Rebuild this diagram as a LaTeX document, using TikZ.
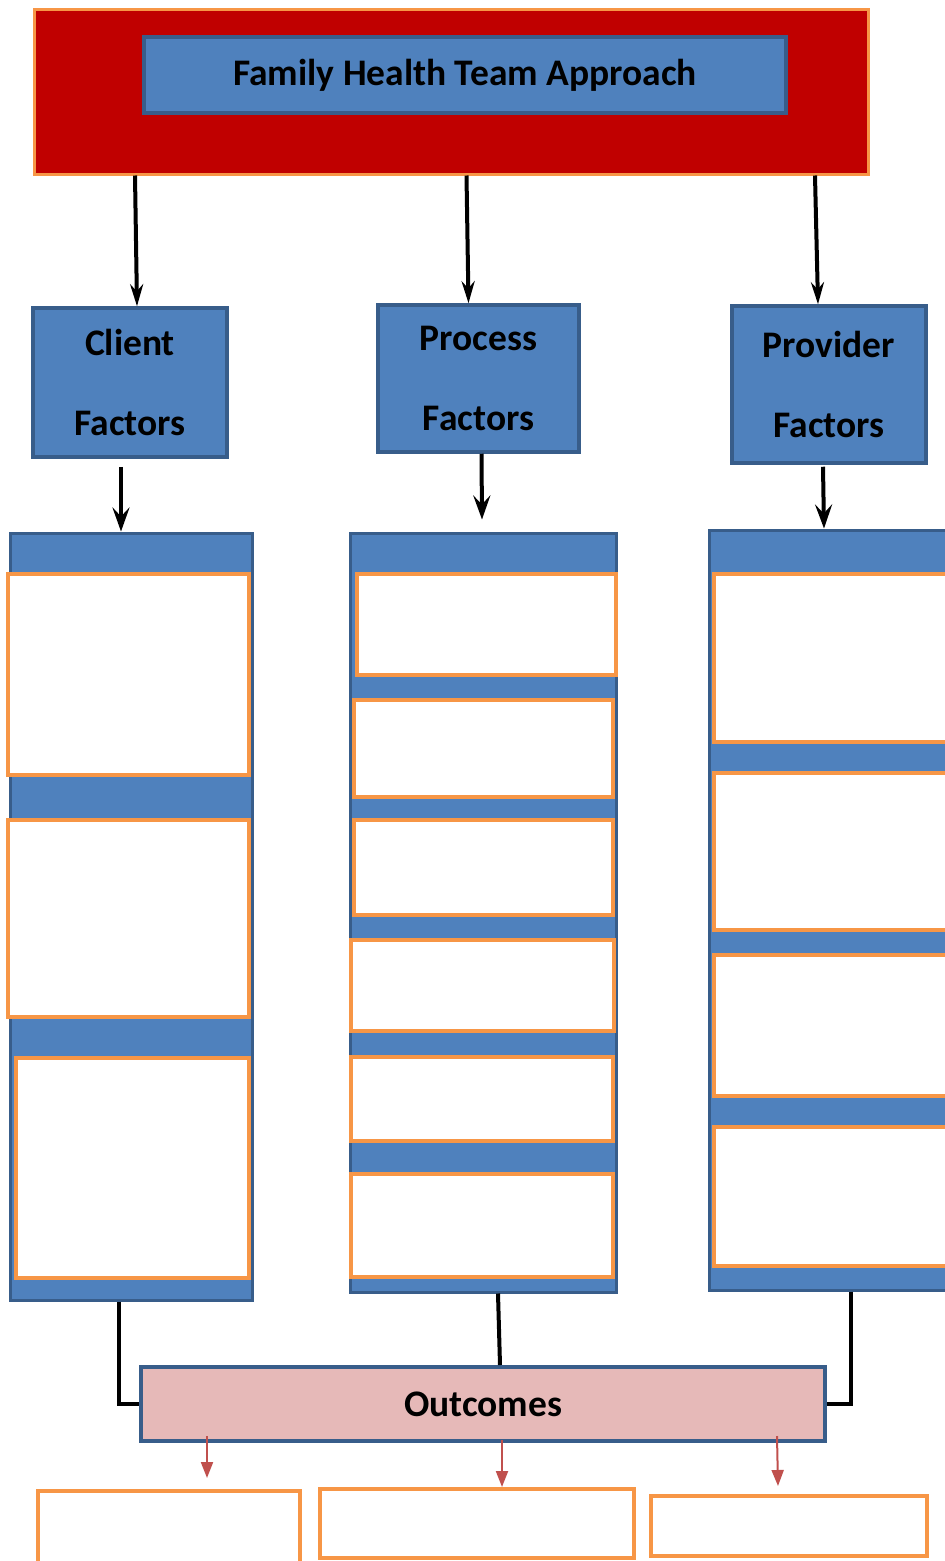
\documentclass[tikz,border=0pt]{standalone}
\usepackage{fontspec}
\setmainfont{Carlito}
\usetikzlibrary{arrows.meta,positioning,calc}
\definecolor{fhred}{HTML}{C00000}
\definecolor{fhorange}{HTML}{F79646}
\definecolor{fhblue}{HTML}{4F81BD}
\definecolor{fhdark}{HTML}{385D8A}
\definecolor{fhpink}{HTML}{E6B9B8}
\definecolor{fharrow}{HTML}{C0504D}
\tikzset{
  frame/.style={draw=fhorange,line width=3pt,fill=fhred,inner sep=0pt},
  bbox/.style={draw=fhdark,line width=3.5pt,fill=fhblue,align=center,inner sep=0pt,
    font=\bfseries\fontsize{37.5}{80}\selectfont},
  col/.style={draw=fhdark,line width=3pt,fill=fhblue,inner sep=0pt},
  slot/.style={draw=fhorange,line width=4pt,fill=white,inner sep=0pt},
  obox/.style={bbox,fill=fhpink,line width=4pt},
  ar/.style={-{Stealth[length=22pt,width=13pt]},line width=4pt},
  br/.style={-{Stealth[length=24pt,width=17pt,inset=9pt]},line width=4pt},
  link/.style={line width=4pt},
  rar/.style={-{Triangle[length=16pt,width=12pt]},line width=2pt,draw=fharrow},
}
\begin{document}
\begin{tikzpicture}[x=1pt,y=-1pt,every node/.style={minimum width=0pt}]
  \useasboundingbox (0,0) rectangle (945,1561);
  % top
  \node[frame,minimum width=834,minimum height=165] (top) at (451,91.5) {};
  \node[bbox,minimum width=642,minimum height=76] (title) at (465,75) {Family Health Team Approach};
  % factor boxes
  \node[bbox,minimum width=194,minimum height=149] (client) at (130,382.5) {Client\\Factors};
  \node[bbox,minimum width=201,minimum height=147] (process) at (478.5,378.5) {Process\\Factors};
  \node[bbox,minimum width=194,minimum height=157] (provider) at (829,384.5) {Provider\\Factors};
  \draw[ar] ([xshift=5]top.south -| client.north) -- ([xshift=7]client.north);
  \draw[ar] ([xshift=-12]top.south -| process.north) -- ([xshift=-10]process.north);
  \draw[ar] ([xshift=-14]top.south -| provider.north) -- ([xshift=-11]provider.north);
  % columns
  \node[col,minimum width=242,minimum height=767] (lcol) at (131,916.5) {};
  \node[col,minimum width=266,minimum height=759] (mcol) at (483,912.5) {};
  \node[col,minimum width=266,minimum height=760] (rcol) at (842,910) {};
  \draw[br] ([xshift=-9,yshift=-8]client.south) -- ([xshift=-10]lcol.north);
  \draw[br] ([xshift=3]process.south) -- ([xshift=-1,yshift=12]mcol.north);
  \draw[br] ([xshift=-6,yshift=-2]provider.south) -- ([xshift=-18]rcol.north);
  % client slots
  \node[slot,minimum width=241,minimum height=201] (la) at (128.5,674.5) {};
  \node[slot,minimum width=241,minimum height=197] (lb) at (128.5,918.5) {};
  \node[slot,minimum width=233,minimum height=220] (lc) at (132.5,1168) {};
  % process slots
  \node[slot,minimum width=259,minimum height=101] (ma) at (486.5,624.5) {};
  \node[slot,minimum width=259,minimum height=97] (mb) at (483.5,748.5) {};
  \node[slot,minimum width=259,minimum height=95] (mc) at (483.5,867.5) {};
  \node[slot,minimum width=263,minimum height=91] (md) at (482.5,985.5) {};
  \node[slot,minimum width=262,minimum height=84] (me) at (482,1099) {};
  \node[slot,minimum width=262,minimum height=103] (mf) at (482,1225.5) {};
  % provider slots
  \node[slot,minimum width=266,minimum height=168] (ra) at (847,658) {};
  \node[slot,minimum width=266,minimum height=157] (rb) at (847,851.5) {};
  \node[slot,minimum width=266,minimum height=141] (rc) at (847,1025.5) {};
  \node[slot,minimum width=266,minimum height=139] (rd) at (847,1196.5) {};
  % outcomes
  \node[obox,minimum width=684,minimum height=74] (out) at (483,1404) {Outcomes};
  \draw[link] ([xshift=-12]lcol.south) |- (out.west);
  \draw[link] ([xshift=15]mcol.south) -- ([xshift=17]out.north);
  \draw[link] ([xshift=9]rcol.south) |- (out.east);
  \node[slot,minimum width=262,minimum height=84] (o1) at (169,1533) {};
  \node[slot,minimum width=314,minimum height=69] (o2) at (477,1523.5) {};
  \node[slot,minimum width=276,minimum height=60] (o3) at (789,1526) {};
  \draw[rar] ([xshift=-276,yshift=7]out.south) -- ([xshift=38,yshift=11]o1.north);
  \draw[rar] ([xshift=19,yshift=3]out.south) -- ([xshift=25]o2.north);
  \draw[rar] ([xshift=294,yshift=7]out.south) -- ([xshift=-11,yshift=8]o3.north);
\end{tikzpicture}
\end{document}
